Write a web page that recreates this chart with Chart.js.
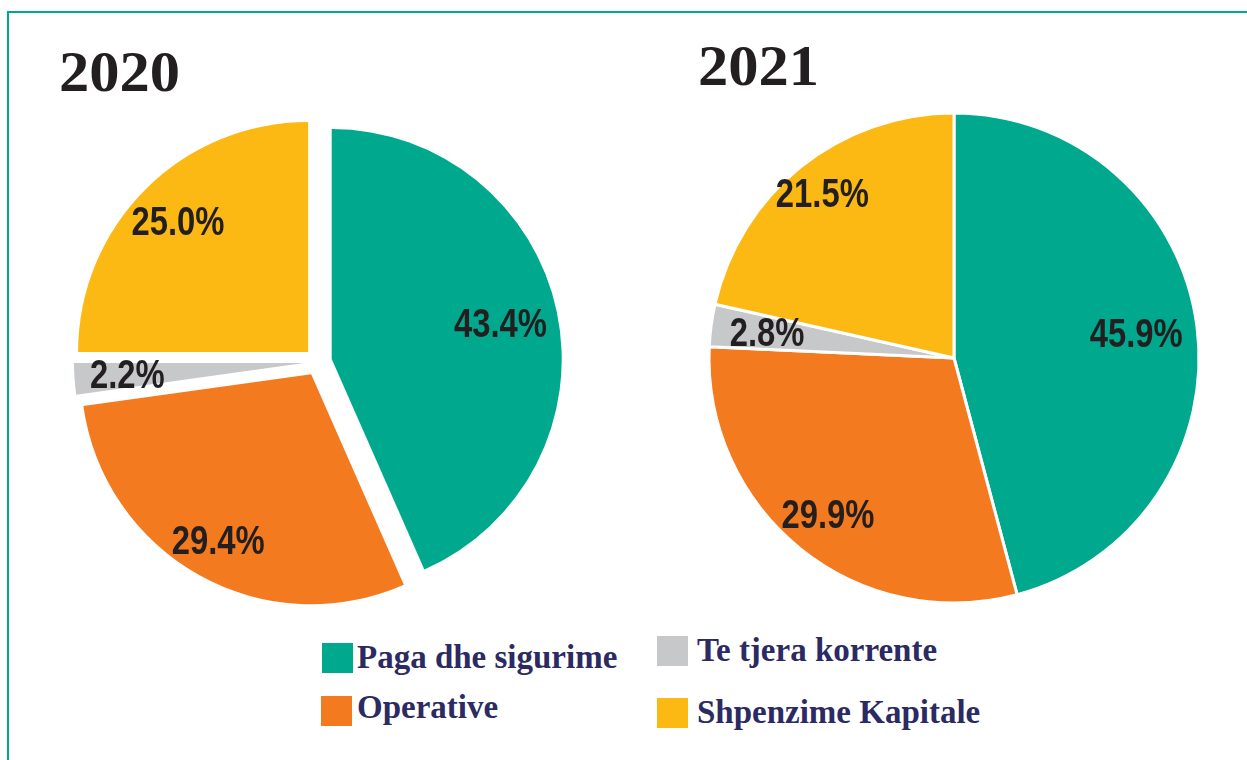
<!DOCTYPE html>
<html lang="sq">
<head>
  <meta charset="utf-8">
  <title>Shpenzimet 2020 - 2021</title>
  <script src="https://cdn.jsdelivr.net/npm/chart.js@4.4.1/dist/chart.umd.min.js"></script>
  <style>
    body { margin: 0; background: #fff; width: 1247px; height: 760px; overflow: hidden; position: relative; }
    .frame { position: absolute; left: 7px; top: 11px; width: 1400px; height: 900px;
             border-left: 2px solid #00a88e; border-top: 2px solid #00a88e; }
    .year { position: absolute; font: bold 56px "Liberation Serif", serif; line-height: 1; color: #231f20;
            transform: scaleX(1.08); transform-origin: left top; }
    canvas { position: absolute; }
    .leg-box { position: absolute; width: 31px; height: 30px; }
    .leg-text { position: absolute; font: bold 33px "Liberation Serif", serif; line-height: 1; color: #2b2a62; white-space: nowrap; }
  </style>
</head>
<body>
  <div class="frame"></div>
  <div class="year" style="left:59px; top:44px">2020</div>
  <div class="year" style="left:698px; top:38px">2021</div>
  <canvas id="pie2020" width="520" height="520" style="left:58px; top:102px"></canvas>
  <canvas id="pie2021" width="540" height="540" style="left:684px; top:88px"></canvas>
  <div id="legend"></div>

  <script>
    // categories and values (%)
    var categories = ['Paga dhe sigurime', 'Operative', 'Te tjera korrente', 'Shpenzime Kapitale'];
    var values2020 = [43.4, 29.4, 2.2, 25.0];
    var values2021 = [45.9, 29.9, 2.8, 21.5];

    var colors = ['#00a88e', '#f47a20', '#c7c8ca', '#fcb913'];

    // where the % label sits, as a share of the radius (per slice)
    var labelPos2020 = [0.75, 0.83, 0.77, 0.80];
    var labelPos2021 = [0.75, 0.82, 0.77, 0.86];

    // legend layout (left, top of box; text left, baseline)
    var legendPos = [
      { bx: 322, by: 643, tx: 357, base: 669 },
      { bx: 321, by: 696, tx: 357, base: 719 },
      { bx: 657, by: 636, tx: 697, base: 662 },
      { bx: 657, by: 698, tx: 697, base: 724 }
    ];

    // pull every slice of a pie out along its middle angle by the same distance
    // (Chart.js's own offset also grows the radius of the slice, which we don't want)
    var explode = {
      id: 'explode',
      beforeDatasetsDraw: function (chart, args, opts) {
        if (!opts.gap) return;
        chart.getDatasetMeta(0).data.forEach(function (arc) {
          if (arc._exploded) return;
          var draw = arc.draw;
          arc.draw = function (ctx) {
            var mid = (this.startAngle + this.endAngle) / 2;
            ctx.save();
            ctx.translate(Math.cos(mid) * opts.gap, Math.sin(mid) * opts.gap);
            draw.call(this, ctx);
            ctx.restore();
          };
          arc._exploded = true;
        });
      }
    };

    var pctLabels = {
      id: 'pctLabels',
      afterDatasetsDraw: function (chart, args, opts) {
        var ctx = chart.ctx;
        var meta = chart.getDatasetMeta(0);
        var vals = chart.data.datasets[0].data;
        var gap = chart.options.plugins.explode.gap || 0;
        ctx.save();
        ctx.font = 'bold 40px "Liberation Sans", Arial, sans-serif';
        ctx.fillStyle = '#231f20';
        ctx.textAlign = 'center';
        ctx.textBaseline = 'middle';
        meta.data.forEach(function (arc, i) {
          var mid = (arc.startAngle + arc.endAngle) / 2;
          var d = gap + opts.pos[i] * arc.outerRadius;
          ctx.save();
          ctx.translate(arc.x + Math.cos(mid) * d, arc.y + Math.sin(mid) * d + 2);
          ctx.scale(0.82, 1);
          ctx.fillText(vals[i].toFixed(1) + '%', 0, 0);
          ctx.restore();
        });
        ctx.restore();
      }
    };

    function makePie(id, values, radius, gap, pos) {
      return new Chart(document.getElementById(id), {
        type: 'pie',
        data: {
          labels: categories,
          datasets: [{
            data: values,
            backgroundColor: colors,
            borderColor: '#ffffff',
            borderWidth: gap ? 0 : 3
          }]
        },
        options: {
          responsive: false,
          animation: false,
          radius: radius,
          layout: { padding: 0 },
          plugins: {
            legend: { display: false },
            tooltip: { enabled: false },
            explode: { gap: gap },
            pctLabels: { pos: pos }
          }
        },
        plugins: [explode, pctLabels]
      });
    }

    makePie('pie2020', values2020, 230, 14, labelPos2020);
    makePie('pie2021', values2021, 245, 0, labelPos2021);

    // legend shared by both pies
    var legend = document.getElementById('legend');
    categories.forEach(function (name, i) {
      var p = legendPos[i];
      var box = document.createElement('div');
      box.className = 'leg-box';
      box.style.left = p.bx + 'px';
      box.style.top = p.by + 'px';
      box.style.background = colors[i];
      legend.appendChild(box);
      var txt = document.createElement('div');
      txt.className = 'leg-text';
      txt.style.left = p.tx + 'px';
      txt.style.top = (p.base - 27.6) + 'px';
      txt.textContent = name;
      legend.appendChild(txt);
    });
  </script>
</body>
</html>
